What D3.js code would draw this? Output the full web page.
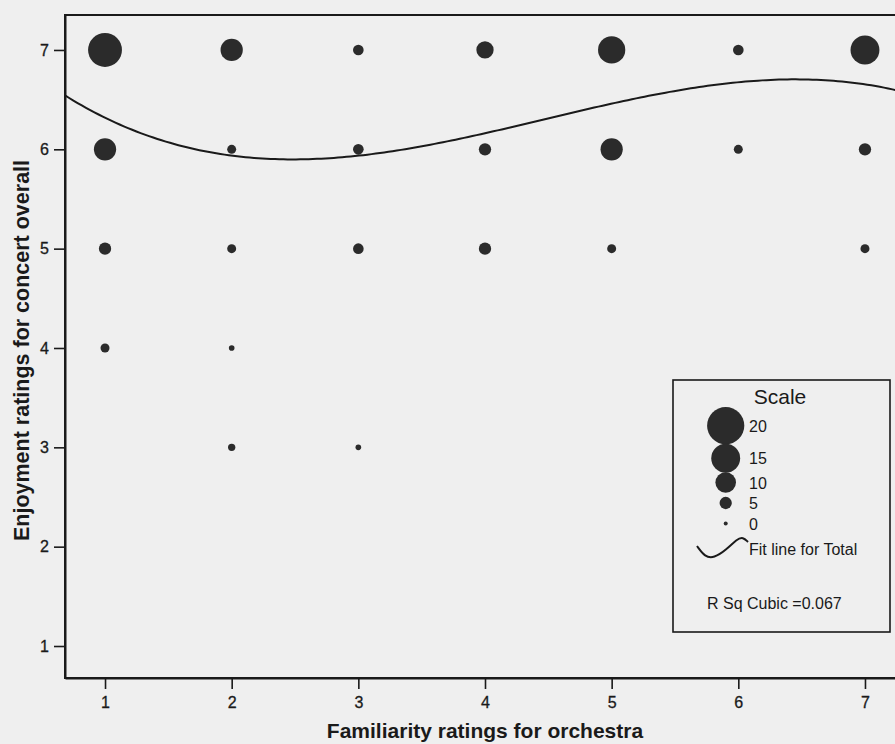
<!DOCTYPE html>
<html>
<head>
<meta charset="utf-8">
<script src="https://cdn.jsdelivr.net/npm/d3@7"></script>
<style>
  html, body { margin: 0; padding: 0; background: #efefef; }
  svg { display: block; }
  text { font-family: "Liberation Sans", Arial, sans-serif; fill: #1a1a1a; }
</style>
</head>
<body>
<svg id="chart" width="895" height="744"></svg>
<script>
// ---- data ----
const familiarity = [1, 2, 3, 4, 5, 6, 7,   1, 2, 3, 4, 5, 6, 7,   1, 2, 3, 4, 5, 7,   1, 2,   2, 3];
const enjoyment   = [7, 7, 7, 7, 7, 7, 7,   6, 6, 6, 6, 6, 6, 6,   5, 5, 5, 5, 5, 5,   4, 4,   3, 3];
const counts      = [18, 11, 4, 8, 14, 4, 15, 11, 3, 4, 5, 11, 3, 5, 5, 3, 4, 5, 3, 3, 3, 1, 2, 1];

const xTickValues = [1, 2, 3, 4, 5, 6, 7];
const yTickValues = [1, 2, 3, 4, 5, 6, 7];
const legendValues = [20, 15, 10, 5, 0];
// cubic fit y = c0 + c1 x + c2 x^2 + c3 x^3 (R Sq Cubic = 0.067)
const fitCoefficients = [7.2348, -1.2358, 0.3448, -0.02573];
const xTitle = "Familiarity ratings for orchestra";
const yTitle = "Enjoyment ratings for concert overall";
const legendTitle = "Scale";
const fitLabel = "Fit line for Total";
const rsqLabel = "R Sq Cubic =0.067";

// ---- layout ----
const svg = d3.select("#chart");
const plot = { left: 65, right: 905, top: 15, bottom: 678 };
const bg = "#efefef";
const ink = "#1a1a1a";
const dot = "#2b2b2b";
const fontFam = '"Liberation Sans", Arial, sans-serif';

const x = d3.scaleLinear().domain([0.684, 7.316]).range([plot.left, plot.right]);
const y = d3.scaleLinear().domain([0.678, 7.352]).range([plot.bottom, plot.top]);
const r = d3.scaleLinear().domain([0, 20]).range([2, 18.6]);

svg.append("rect").attr("width", 895).attr("height", 744).attr("fill", bg);

// plot frame
svg.append("rect")
  .attr("x", plot.left).attr("y", plot.top)
  .attr("width", plot.right - plot.left).attr("height", plot.bottom - plot.top)
  .attr("fill", "none").attr("stroke", ink).attr("stroke-width", 2);

// axes
const xAxis = svg.append("g")
  .attr("transform", `translate(0,${plot.bottom})`)
  .call(d3.axisBottom(x).tickValues(xTickValues).tickFormat(d3.format("d"))
        .tickSize(11).tickSizeOuter(0).tickPadding(8));
const yAxis = svg.append("g")
  .attr("transform", `translate(${plot.left},0)`)
  .call(d3.axisLeft(y).tickValues(yTickValues).tickFormat(d3.format("d"))
        .tickSize(11).tickSizeOuter(0).tickPadding(5));
[xAxis, yAxis].forEach(g => {
  g.attr("font-size", 16).attr("font-family", fontFam);
  g.select(".domain").attr("stroke", ink).attr("stroke-width", 2);
  g.selectAll(".tick line").attr("stroke", ink).attr("stroke-width", 1.6);
  g.selectAll(".tick text").attr("fill", ink).attr("font-size", 16)
    .style("font-size", "16px").style("font-family", fontFam)
    .attr("stroke", ink).attr("stroke-width", 0.3);
});

// clip for plot contents
svg.append("clipPath").attr("id", "plotclip")
  .append("rect").attr("x", plot.left).attr("y", plot.top)
  .attr("width", plot.right - plot.left).attr("height", plot.bottom - plot.top);
const inner = svg.append("g").attr("clip-path", "url(#plotclip)");

// bubbles
const points = familiarity.map((f, i) => ({ f, e: enjoyment[i], n: counts[i] }));
inner.selectAll("circle.bubble").data(points).join("circle")
  .attr("class", "bubble")
  .attr("cx", d => x(d.f)).attr("cy", d => y(d.e)).attr("r", d => r(d.n))
  .attr("fill", dot);

// cubic fit line
const fit = v => fitCoefficients.reduce((s, c, k) => s + c * Math.pow(v, k), 0);
const xs = d3.range(0, 201).map(i => x.domain()[0] + (x.domain()[1] - x.domain()[0]) * i / 200);
inner.append("path")
  .datum(xs)
  .attr("d", d3.line().x(v => x(v)).y(v => y(fit(v))))
  .attr("fill", "none").attr("stroke", ink).attr("stroke-width", 2);

// legend
const lg = svg.append("g");
const box = { x: 673, y: 380, w: 217, h: 252 };
lg.append("rect").attr("x", box.x).attr("y", box.y).attr("width", box.w).attr("height", box.h)
  .attr("fill", bg).attr("stroke", ink).attr("stroke-width", 1.6);
lg.append("text").attr("x", 780).attr("y", 404).attr("text-anchor", "middle")
  .style("font-size", "21px").text(legendTitle);

let cy = 425.7;
const legendRows = legendValues.map((v, i) => {
  if (i > 0) cy += Math.max(20.5, r(legendValues[i - 1]) + r(v) - 0.5);
  return { v, cy };
});
const cxL = 725.7;
lg.selectAll("circle").data(legendRows).join("circle")
  .attr("cx", cxL).attr("cy", d => d.cy).attr("r", d => r(d.v)).attr("fill", dot);
lg.selectAll("text.lv").data(legendRows).join("text").attr("class", "lv")
  .attr("x", 749).attr("y", d => d.cy + 6).style("font-size", "16px").text(d => d.v);

// legend fit-line glyph
const glyph = [[697, 546], [705, 557], [714, 558], [726, 550], [737, 539], [743, 537], [748, 542]];
lg.append("path").datum(glyph)
  .attr("d", d3.line().curve(d3.curveBasis))
  .attr("fill", "none").attr("stroke", ink).attr("stroke-width", 2);
lg.append("text").attr("x", 749).attr("y", 555).style("font-size", "16px").text(fitLabel);
lg.append("text").attr("x", 707).attr("y", 609).style("font-size", "16px").text(rsqLabel);

// axis titles
svg.append("text").attr("x", (plot.left + plot.right) / 2).attr("y", 738)
  .attr("text-anchor", "middle").style("font-size", "21px").style("font-weight", "bold")
  .text(xTitle);
svg.append("text").attr("transform", `translate(28.5,${(plot.top + plot.bottom) / 2 + 4}) rotate(-90)`)
  .attr("text-anchor", "middle").style("font-size", "21.5px").style("font-weight", "bold")
  .text(yTitle);
</script>
</body>
</html>
